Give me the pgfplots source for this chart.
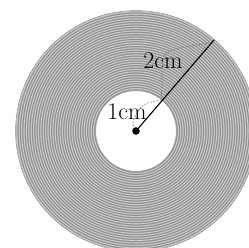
\documentclass[border=0pt]{standalone}
\usepackage{pgfplots}
\pgfplotsset{compat=1.18}
\begin{document}
\begin{tikzpicture}
\begin{axis}[
  scale only axis, width=249bp, height=248bp,
  xmin=0, xmax=249, ymin=0, ymax=248,
  hide axis, clip=true,
]
% annulus background
\fill[black!34, even odd rule] (axis cs:136,117) circle[radius=120] (axis cs:136,117) circle[radius=40];
% grooves
\pgfplotsinvokeforeach{41.2,43.6,...,119.5}{
  \draw[black!48, line width=0.5bp] (axis cs:136,117) circle[radius=#1];
}
\pgfplotsinvokeforeach{42.4,44.8,...,119.5}{
  \draw[black!16, line width=0.6bp] (axis cs:136,117) circle[radius=#1];
}
% dashed arcs
\addplot[black!55, dash pattern=on 1.6bp off 1.6bp, line width=0.6bp, smooth] coordinates {(213,206) (197,203) (180,200) (167,196) (163,188) (162,175) (162,161) (161,148)};
\addplot[black!55, dash pattern=on 1.6bp off 1.6bp, line width=0.6bp, smooth] coordinates {(135,119) (133,126) (140,140) (148,145) (161,148)};
% radius line
\addplot[black, line width=1.1bp] coordinates {(136,117) (214,208)};
% center
\addplot[only marks, mark=*, mark size=3.5bp, black] coordinates {(136,117)};
\node[font=\fontsize{24}{28}\selectfont, text=black] at (axis cs:163,187) {2cm};
\node[font=\fontsize{24}{28}\selectfont, text=black] at (axis cs:127,136) {1cm};
\end{axis}
\pgfresetboundingbox
\path (current axis.south west) rectangle (current axis.north east);
\end{tikzpicture}
\end{document}
